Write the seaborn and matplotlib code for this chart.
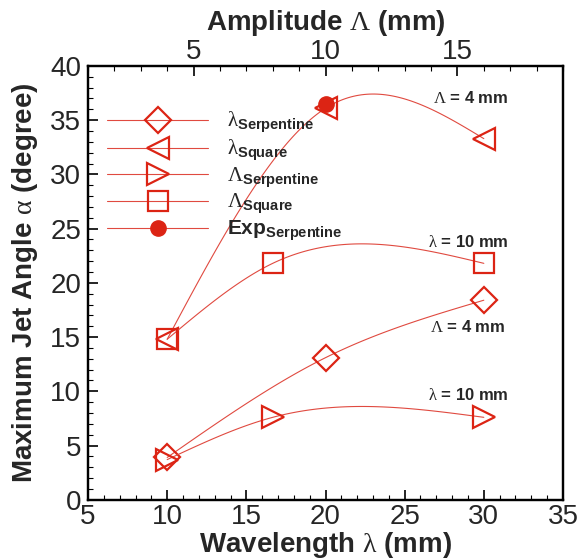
import numpy as np
import pandas as pd
import matplotlib
matplotlib.use("Agg")
import matplotlib.pyplot as plt
import seaborn as sns
from matplotlib.lines import Line2D
from matplotlib.ticker import MultipleLocator

# Data
wavelength = [10, 20, 30]            # lambda (mm), bottom axis
angle_lam_serp = [3.9, 13.1, 18.4]   # lambda_Serpentine, Lambda = 4 mm
angle_lam_square = [14.8, 36.1, 33.3]  # lambda_Square, Lambda = 4 mm
amplitude = [4, 8, 16]               # Lambda (mm), top axis
angle_amp_serp = [3.7, 7.6, 7.6]     # Lambda_Serpentine, lambda = 10 mm
angle_amp_square = [14.8, 21.8, 21.8]  # Lambda_Square, lambda = 10 mm
exp_wavelength = [20]
exp_angle = [36.5]

RED = "#dc2414"
LINE_RED = "#e04a40"


def natural_spline(x, y, n=120):
    # natural cubic spline through the points (like the original curve fit)
    x = np.asarray(x, float)
    y = np.asarray(y, float)
    h = np.diff(x)
    k = len(x)
    A = np.zeros((k, k))
    r = np.zeros(k)
    A[0, 0] = A[-1, -1] = 1
    for i in range(1, k - 1):
        A[i, i - 1] = h[i - 1]
        A[i, i] = 2 * (h[i - 1] + h[i])
        A[i, i + 1] = h[i]
        r[i] = 6 * ((y[i + 1] - y[i]) / h[i] - (y[i] - y[i - 1]) / h[i - 1])
    M = np.linalg.solve(A, r)
    xs = np.linspace(x[0], x[-1], n)
    idx = np.clip(np.searchsorted(x, xs) - 1, 0, k - 2)
    x0, x1 = x[idx], x[idx + 1]
    hh = x1 - x0
    a = (x1 - xs) / hh
    b = (xs - x0) / hh
    ys = a * y[idx] + b * y[idx + 1] + ((a**3 - a) * M[idx] + (b**3 - b) * M[idx + 1]) * hh**2 / 6
    return pd.DataFrame({"x": xs, "y": ys})


sns.set_theme(style="ticks")
plt.rcParams["font.family"] = ["Liberation Sans", "DejaVu Sans"]
plt.rcParams["mathtext.fontset"] = "custom"
plt.rcParams["mathtext.rm"] = "Liberation Serif"
plt.rcParams["mathtext.it"] = "Liberation Serif:italic"
plt.rcParams["mathtext.bf"] = "Liberation Sans:bold"
plt.rcParams["mathtext.sf"] = "Liberation Sans"

fig = plt.figure(figsize=(5.81, 5.59), dpi=100)
ax = fig.add_axes([0.1515, 0.106, 0.8175, 0.776])
ax2 = ax.twiny()

ax.set_xlim(5, 35)
ax.set_ylim(0, 40)
ax2.set_xlim(1, 19)

# curves
line_kw = dict(color=LINE_RED, lw=0.8, legend=False)
sns.lineplot(data=natural_spline(wavelength, angle_lam_serp), x="x", y="y", ax=ax, sort=False, **line_kw)
sns.lineplot(data=natural_spline(wavelength, angle_lam_square), x="x", y="y", ax=ax, sort=False, **line_kw)
sns.lineplot(data=natural_spline(amplitude, angle_amp_serp), x="x", y="y", ax=ax2, sort=False, **line_kw)
sns.lineplot(data=natural_spline(amplitude, angle_amp_square), x="x", y="y", ax=ax2, sort=False, **line_kw)

# markers
mk = dict(ls="none", mfc="none", mec=RED, mew=1.6)
ax.plot(wavelength, angle_lam_serp, marker="D", ms=13, **mk)
ax.plot(wavelength, angle_lam_square, marker="<", ms=16, **mk)
ax2.plot(amplitude, angle_amp_serp, marker=">", ms=16, **mk)
ax2.plot(amplitude, angle_amp_square, marker="s", ms=14, **mk)
ax.plot(exp_wavelength, exp_angle, ls="none", marker="o", ms=11, mfc=RED, mec=RED)
ax2.set_ylim(0, 40)

# annotations
txt = dict(fontsize=12, fontweight="bold", ha="center", va="center")
ax.text(29.2, 37.0, r"$\mathrm{\Lambda}$ = 4 mm", **txt)
ax.text(29.0, 23.8, r"$\mathrm{\lambda}$ = 10 mm", **txt)
ax.text(29.0, 15.9, r"$\mathrm{\Lambda}$ = 4 mm", **txt)
ax.text(29.0, 9.7, r"$\mathrm{\lambda}$ = 10 mm", **txt)

# axes styling
ax.set_xlabel(r"Wavelength $\mathrm{\lambda}$ (mm)", fontsize=20, fontweight="bold", labelpad=0)
ax.set_ylabel(r"Maximum Jet Angle $\mathrm{\alpha}$ (degree)", fontsize=20, fontweight="bold", labelpad=7)
ax2.set_xlabel(r"Amplitude $\mathrm{\Lambda}$ (mm)", fontsize=20, fontweight="bold", labelpad=6)

ax.xaxis.set_major_locator(MultipleLocator(5))
ax.xaxis.set_minor_locator(MultipleLocator(1))
ax.yaxis.set_major_locator(MultipleLocator(5))
ax.yaxis.set_minor_locator(MultipleLocator(1))
ax2.xaxis.set_major_locator(MultipleLocator(5))
ax2.xaxis.set_minor_locator(MultipleLocator(1))

for a in (ax, ax2):
    a.tick_params(which="major", direction="in", length=7, width=1.2, labelsize=20, color="black", pad=3)
    a.tick_params(which="minor", direction="in", length=3.5, width=0.8, color="black")
    for s in a.spines.values():
        s.set_visible(True)
        s.set_linewidth(1.6)
        s.set_color("black")
ax.tick_params(axis="y", which="both", right=False)
ax.tick_params(axis="y", which="major", pad=5)
ax2.tick_params(axis="x", which="major", pad=1)
ax2.tick_params(axis="y", which="both", right=False, left=False, labelright=False, labelleft=False)
ax2.set_ylabel("")

# legend
handles = [
    Line2D([], [], color=LINE_RED, lw=0.8, marker="D", ms=13, mfc="none", mec=RED, mew=1.6),
    Line2D([], [], color=LINE_RED, lw=0.8, marker="<", ms=16, mfc="none", mec=RED, mew=1.6),
    Line2D([], [], color=LINE_RED, lw=0.8, marker=">", ms=16, mfc="none", mec=RED, mew=1.6),
    Line2D([], [], color=LINE_RED, lw=0.8, marker="s", ms=14, mfc="none", mec=RED, mew=1.6),
    Line2D([], [], color=LINE_RED, lw=0.8, marker="o", ms=11, mfc=RED, mec=RED),
]
labels = [
    r"$\mathrm{\lambda}_{\mathbf{Serpentine}}$",
    r"$\mathrm{\lambda}_{\mathbf{Square}}$",
    r"$\mathrm{\Lambda}_{\mathbf{Serpentine}}$",
    r"$\mathrm{\Lambda}_{\mathbf{Square}}$",
    r"$\mathbf{Exp}_{\mathbf{Serpentine}}$",
]
ax2.legend(handles, labels, loc="center left", bbox_to_anchor=(0.04, 0.745), frameon=False,
           fontsize=15, handlelength=4.85, handletextpad=0.9, labelspacing=0.12,
           borderpad=0, borderaxespad=0, numpoints=1)

fig.savefig("out.png", dpi=100)
